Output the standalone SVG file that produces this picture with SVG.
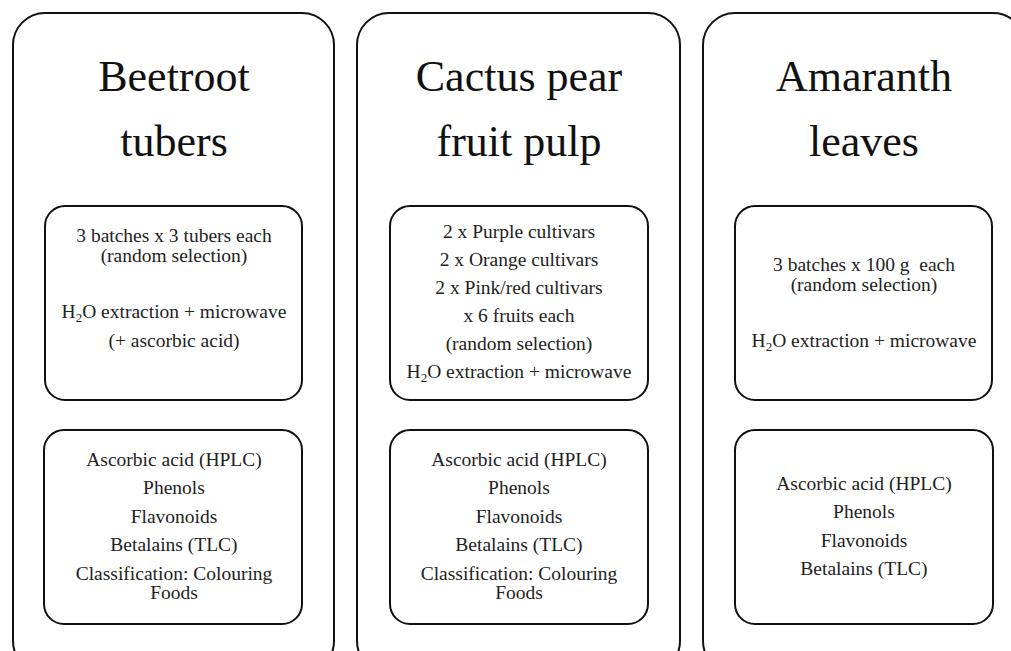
<svg xmlns="http://www.w3.org/2000/svg" width="1011" height="651" viewBox="0 0 1011 651">
<style>
.outer{fill:#fff;stroke:#111;stroke-width:2}
.inner{fill:#fff;stroke:#111;stroke-width:2}
.title{font-family:"Liberation Serif","Times New Roman",serif;font-size:44px;fill:#111;text-anchor:middle}
.body{font-family:"Liberation Serif","Times New Roman",serif;font-size:19.5px;fill:#222;text-anchor:middle}
.sub{font-size:13px}
</style>
<rect width="1011" height="651" fill="#fff"/>
<g id="col-beetroot">
<rect class="outer" x="13" y="13" width="321" height="660" rx="32"/>
<text class="title" x="174" y="91">Beetroot</text>
<text class="title" x="174" y="156">tubers</text>
</g>
<g id="col-cactus">
<rect class="outer" x="357" y="13" width="323" height="660" rx="32"/>
<text class="title" x="519" y="91">Cactus pear</text>
<text class="title" x="519" y="156">fruit pulp</text>
</g>
<g id="col-amaranth">
<rect class="outer" x="703" y="13" width="322" height="660" rx="32"/>
<text class="title" x="864" y="91">Amaranth</text>
<text class="title" x="864" y="156">leaves</text>
</g>
<g id="beet-sampling">
<rect class="inner" x="45" y="206" width="257" height="194" rx="20"/>
<text class="body" x="174" y="242">3 batches x 3 tubers each</text>
<text class="body" x="174" y="262">(random selection)</text>
<text class="body" x="174" y="318">H<tspan class="sub" dy="4">2</tspan><tspan dy="-4">O extraction + microwave</tspan></text>
<text class="body" x="174" y="347">(+ ascorbic acid)</text>
</g>
<g id="cactus-sampling">
<rect class="inner" x="390" y="206" width="258" height="194" rx="20"/>
<text class="body" x="519" y="238">2 x Purple cultivars</text>
<text class="body" x="519" y="266">2 x Orange cultivars</text>
<text class="body" x="519" y="294">2 x Pink/red cultivars</text>
<text class="body" x="519" y="322">x 6 fruits each</text>
<text class="body" x="519" y="350">(random selection)</text>
<text class="body" x="519" y="378">H<tspan class="sub" dy="4">2</tspan><tspan dy="-4">O extraction + microwave</tspan></text>
</g>
<g id="amaranth-sampling">
<rect class="inner" x="735" y="206" width="257" height="194" rx="20"/>
<text class="body" x="864" y="271">3 batches x 100 g&#160; each</text>
<text class="body" x="864" y="291">(random selection)</text>
<text class="body" x="864" y="347">H<tspan class="sub" dy="4">2</tspan><tspan dy="-4">O extraction + microwave</tspan></text>
</g>
<g id="beet-analysis">
<rect class="inner" x="44" y="430" width="258" height="194" rx="20"/>
<text class="body" x="174" y="466">Ascorbic acid (HPLC)</text>
<text class="body" x="174" y="494">Phenols</text>
<text class="body" x="174" y="523">Flavonoids</text>
<text class="body" x="174" y="551">Betalains (TLC)</text>
<text class="body" x="174" y="580">Classification: Colouring</text>
<text class="body" x="174" y="599">Foods</text>
</g>
<g id="cactus-analysis">
<rect class="inner" x="390" y="430" width="258" height="194" rx="20"/>
<text class="body" x="519" y="466">Ascorbic acid (HPLC)</text>
<text class="body" x="519" y="494">Phenols</text>
<text class="body" x="519" y="523">Flavonoids</text>
<text class="body" x="519" y="551">Betalains (TLC)</text>
<text class="body" x="519" y="580">Classification: Colouring</text>
<text class="body" x="519" y="599">Foods</text>
</g>
<g id="amaranth-analysis">
<rect class="inner" x="735" y="430" width="258" height="194" rx="20"/>
<text class="body" x="864" y="490">Ascorbic acid (HPLC)</text>
<text class="body" x="864" y="518">Phenols</text>
<text class="body" x="864" y="547">Flavonoids</text>
<text class="body" x="864" y="575">Betalains (TLC)</text>
</g>
<g id="connectors"></g>
</svg>
